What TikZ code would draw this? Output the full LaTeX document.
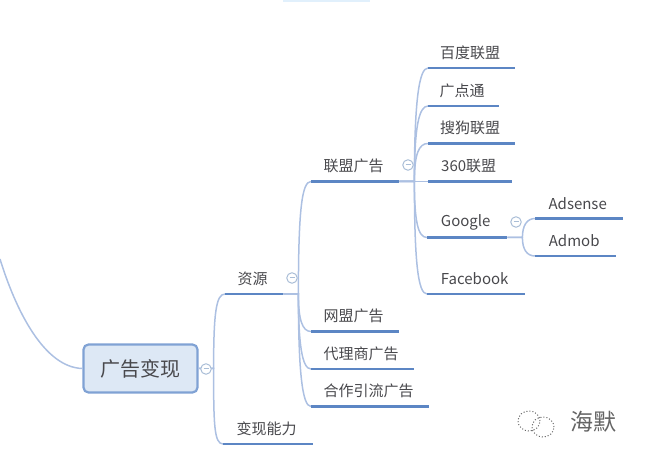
\documentclass[tikz,border=0pt]{standalone}
\usepackage{xcolor}
\usepackage{fontspec}
\setmainfont{Noto Sans CJK SC}
\usepackage{tikz}
\usetikzlibrary{calc,positioning}
\definecolor{RuleBlue}{RGB}{92,134,196}
\definecolor{BranchBlue}{RGB}{172,192,226}
\definecolor{RootFill}{RGB}{221,232,245}
\definecolor{RootEdge}{RGB}{128,162,212}
\definecolor{TopicGrey}{RGB}{72,72,76}
\definecolor{ToggleGrey}{RGB}{170,190,215}
\definecolor{MarkGrey}{RGB}{100,100,100}
\definecolor{TopEdge}{RGB}{225,240,252}
\tikzset{
  topic/.style={anchor=south west, inner sep=0pt, minimum height=30pt, text=TopicGrey, font=\fontsize{15}{18}\selectfont, execute at end node=\hspace{3pt}},
  rootbox/.style={draw=RootEdge, line width=2.2pt, fill=RootFill, rounded corners=5pt, inner sep=0pt, minimum width=114pt, minimum height=48pt, text=TopicGrey, font=\fontsize{20}{24}\selectfont},
  toggle/.style={circle, draw=ToggleGrey, line width=1pt, fill=white, inner sep=0pt, minimum size=10.5pt, text=ToggleGrey},
  underline/.style={draw=RuleBlue, line width=2.4pt},
  branch/.style={draw=BranchBlue, line width=1.5pt}
}
\newcommand{\minusbar}{\rule[0.4ex]{5pt}{0.8pt}}

\begin{document}
\begin{tikzpicture}[x=1pt, y=-1pt]
    \useasboundingbox (0,0) rectangle (654,454);

    % Cut-off box at the top edge
    \fill[TopEdge] (283,0) rectangle (370,2);

    % Central topic
    \node[rootbox] (root) at (140.5,368.5) {广告变现};
    \coordinate (offpage) at (0,259);

    % Topics, each sitting on its rule
    \node[topic, minimum width=58pt] (ziyuan) at (225,294) {资源};
    \node[topic, minimum width=90pt] (nengli) at (223,444) {变现能力};
    \node[topic, minimum width=88pt] (lianmeng) at (311,181.5) {联盟广告};
    \node[topic, minimum width=88pt] (wangmeng) at (311,331.5) {网盟广告};
    \node[topic, minimum width=103pt] (daili) at (311,369) {代理商广告};
    \node[topic, minimum width=118pt] (hezuo) at (311,406.5) {合作引流广告};
    \node[topic, minimum width=87pt] (baidu) at (428,68) {百度联盟};
    \node[topic, minimum width=71pt] (guangdian) at (428,106) {广点通};
    \node[topic, minimum width=87pt] (sougou) at (428,143.5) {搜狗联盟};
    \node[topic, minimum width=84pt] (sanliuling) at (428,181.5) {360联盟};
    \node[topic, minimum width=80pt] (google) at (427,237.5) {Google};
    \node[topic, minimum width=98pt] (facebook) at (427,294) {Facebook};
    \node[topic, minimum width=88pt] (adsense) at (535,218.5) {Adsense};
    \node[topic, minimum width=81pt] (admob) at (535,256) {Admob};

    % Where the branches of each topic fork
    \coordinate (roothub) at ($(root.east)+(15,0)$);
    \coordinate (ziyuanhub) at ($(ziyuan.south east)+(15,0)$);
    \coordinate (lianmenghub) at ($(lianmeng.south east)+(15,0)$);
    \coordinate (googlehub) at ($(google.south east)+(15,0)$);

    % Curved branches
    \draw[branch] (offpage) .. controls +(16,52) and +(-38,-1) .. (root.west);
    \draw[branch] (root.east) -- (roothub) .. controls +(0,-55) and +(-9,0) .. (ziyuan.south west);
    \draw[branch] (root.east) -- (roothub) .. controls +(0,55) and +(-9,0) .. (nengli.south west);
    \draw[branch] (ziyuan.south east) -- (ziyuanhub) .. controls +(0,-85) and +(-9,0) .. (lianmeng.south west);
    \draw[branch] (ziyuan.south east) -- (ziyuanhub) .. controls +(0,25) and +(-9,0) .. (wangmeng.south west);
    \draw[branch] (ziyuan.south east) -- (ziyuanhub) .. controls +(0,50) and +(-9,0) .. (daili.south west);
    \draw[branch] (ziyuan.south east) -- (ziyuanhub) .. controls +(0,75) and +(-9,0) .. (hezuo.south west);
    \draw[branch] (lianmeng.south east) -- (lianmenghub) .. controls +(0,-80) and +(-9,0) .. (baidu.south west);
    \draw[branch] (lianmeng.south east) -- (lianmenghub) .. controls +(0,-55) and +(-9,0) .. (guangdian.south west);
    \draw[branch] (lianmeng.south east) -- (lianmenghub) .. controls +(0,-28) and +(-9,0) .. (sougou.south west);
    \draw[branch] (lianmeng.south east) -- (sanliuling.south west);
    \draw[branch] (lianmeng.south east) -- (lianmenghub) .. controls +(0,40) and +(-9,0) .. (google.south west);
    \draw[branch] (lianmeng.south east) -- (lianmenghub) .. controls +(0,80) and +(-9,0) .. (facebook.south west);
    \draw[branch] (google.south east) -- (googlehub) .. controls +(0,-12) and +(-8,0) .. (adsense.south west);
    \draw[branch] (google.south east) -- (googlehub) .. controls +(0,12) and +(-8,0) .. (admob.south west);

    % Rules under the topics
    \draw[underline] (ziyuan.south west) -- (ziyuan.south east);
    \draw[underline] (nengli.south west) -- (nengli.south east);
    \draw[underline] (lianmeng.south west) -- (lianmeng.south east);
    \draw[underline] (wangmeng.south west) -- (wangmeng.south east);
    \draw[underline] (daili.south west) -- (daili.south east);
    \draw[underline] (hezuo.south west) -- (hezuo.south east);
    \draw[underline] (baidu.south west) -- (baidu.south east);
    \draw[underline] (guangdian.south west) -- (guangdian.south east);
    \draw[underline] (sougou.south west) -- (sougou.south east);
    \draw[underline] (sanliuling.south west) -- (sanliuling.south east);
    \draw[underline] (google.south west) -- (google.south east);
    \draw[underline] (facebook.south west) -- (facebook.south east);
    \draw[underline] (adsense.south west) -- (adsense.south east);
    \draw[underline] (admob.south west) -- (admob.south east);

    % Collapse marks
    \node[toggle] (rootmark) at (206,369) {\minusbar};
    \node[toggle] (ziyuanmark) at (292,278) {\minusbar};
    \node[toggle] (lianmengmark) at (408,165) {\minusbar};
    \node[toggle] (googlemark) at (516,222) {\minusbar};

    % Watermark
    \draw[MarkGrey, line width=1pt, dotted] (529,421) ellipse (11pt and 10pt);
    \draw[MarkGrey, line width=1pt, dotted] (543,427) ellipse (11pt and 10pt);
    \node[text=MarkGrey, inner sep=0pt, font=\fontsize{23}{27}\selectfont] (haimo) at (593,422) {海默};
\end{tikzpicture}
\end{document}
